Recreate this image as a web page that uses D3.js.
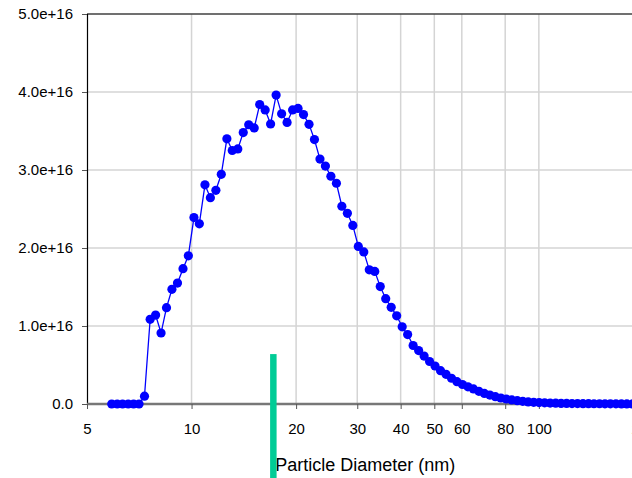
<!DOCTYPE html>
<html lang="en">
<head>
    <meta charset="UTF-8">
    <title>Particle size distribution</title>
    <script src="https://cdn.jsdelivr.net/npm/d3@7"></script>
    <style>
        body{
            margin: 0;
            font-family: "Liberation Sans", Arial, sans-serif;
        }
        .axis text{
            font-family: "Liberation Sans", Arial, sans-serif;
            font-size: 15px;
            fill: #000;
        }
        .grid line{
            stroke: #d4d4d4;
            stroke-width: 1.5;
        }
    </style>
</head>
<body>
<svg id="main" width="632" height="478"></svg>
<script>
    // particle diameters (nm) and number concentrations
    const diameters = [5.89, 6.11, 6.33, 6.57, 6.81, 7.06, 7.32, 7.60, 7.88, 8.17,
        8.47, 8.78, 9.11, 9.45, 9.79, 10.16, 10.53, 10.93, 11.33, 11.75,
        12.18, 12.64, 13.10, 13.59, 14.09, 14.61, 15.15, 15.71, 16.29, 16.89,
        17.52, 18.17, 18.84, 19.54, 20.26, 21.01, 21.79, 22.59, 23.43, 24.29,
        25.19, 26.13, 27.09, 28.10, 29.13, 30.21, 31.33, 32.49, 33.69, 34.94,
        36.23, 37.57, 38.96, 40.41, 41.90, 43.45, 45.06, 46.73, 48.46, 50.25,
        52.11, 54.04, 56.04, 58.11, 60.26, 62.49, 64.81, 67.20, 69.69, 72.27,
        74.94, 77.72, 80.59, 83.58, 86.67, 89.87, 93.20, 96.65, 100.2, 103.9,
        107.8, 111.8, 115.9, 120.2, 124.6, 129.2, 134.0, 139.0, 144.1, 149.5,
        155.0, 160.7, 166.7, 172.9, 179.2, 185.9, 192.8, 199.9];

    const counts = [0, 0, 0, 0, 0, 0, 0.10e16, 1.086e16, 1.14e16, 0.91e16,
        1.235e16, 1.47e16, 1.55e16, 1.735e16, 1.90e16, 2.39e16, 2.31e16, 2.81e16, 2.645e16, 2.74e16,
        2.945e16, 3.40e16, 3.25e16, 3.27e16, 3.48e16, 3.58e16, 3.54e16, 3.84e16, 3.77e16, 3.59e16,
        3.96e16, 3.72e16, 3.61e16, 3.77e16, 3.79e16, 3.71e16, 3.585e16, 3.39e16, 3.14e16, 3.05e16,
        2.92e16, 2.83e16, 2.535e16, 2.445e16, 2.29e16, 2.02e16, 1.95e16, 1.72e16, 1.70e16, 1.505e16,
        1.35e16, 1.24e16, 1.13e16, 0.99e16, 0.89e16, 0.75e16, 0.685e16, 0.615e16, 0.545e16, 0.487e16,
        0.427e16, 0.38e16, 0.33e16, 0.286e16, 0.25e16, 0.22e16, 0.193e16, 0.163e16, 0.135e16, 0.115e16,
        0.094e16, 0.077e16, 0.064e16, 0.052e16, 0.042e16, 0.034e16, 0.027e16, 0.022e16, 0.018e16, 0.015e16,
        0.012e16, 0.010e16, 0.008e16, 0.007e16, 0.006e16, 0.005e16, 0.004e16, 0.004e16, 0.003e16, 0.003e16,
        0.002e16, 0.002e16, 0.002e16, 0.001e16, 0.001e16, 0.001e16, 0.001e16, 0.001e16];

    const xTicks = [5, 10, 20, 30, 40, 50, 60, 80, 100, 200];
    const yTicks = [0, 1e16, 2e16, 3e16, 4e16, 5e16];

    // marker (mode diameter) drawn as a green bar
    const markerDiameter = 17.2;
    const markerTop = 0.64e16;
    const markerBottom = -1e16;

    const margin = {top: 14, left: 87};
    const plotRight = 643.4, plotBottom = 404;

    const data = diameters.map((d, i) => ({d: d, n: counts[i]}));

    const xScale = d3.scaleLog()
        .domain([5, 200])
        .range([margin.left, plotRight]);
    const yScale = d3.scaleLinear()
        .domain([0, 5e16])
        .range([plotBottom, margin.top]);

    const svg = d3.select('svg#main');

    // gridlines
    const grid = svg.append("g").attr("class", "grid");
    grid.selectAll(".vg")
        .data(xTicks.filter(d => d > 5))
        .join("line")
        .attr("x1", d => xScale(d)).attr("x2", d => xScale(d))
        .attr("y1", margin.top).attr("y2", plotBottom);
    grid.selectAll(".hg")
        .data(yTicks.filter(d => d > 0 && d < 5e16))
        .join("line")
        .attr("x1", margin.left).attr("x2", 632)
        .attr("y1", d => yScale(d)).attr("y2", d => yScale(d));

    // top border
    svg.append("line")
        .attr("x1", margin.left).attr("x2", 632)
        .attr("y1", yScale(5e16)).attr("y2", yScale(5e16))
        .attr("stroke", "#404040").attr("stroke-width", 1.5);

    // y axis
    const yAxis = d3.axisLeft(yScale)
        .tickValues(yTicks)
        .tickFormat(d => d === 0 ? "0.0" : d.toExponential(1))
        .tickSize(5)
        .tickPadding(9);
    const yAxisGroup = svg.append("g")
        .attr("class", "axis")
        .attr("transform", `translate(${margin.left},0)`)
        .call(yAxis);
    yAxisGroup.select(".domain").attr("stroke", "#000").attr("stroke-width", 1.2);
    yAxisGroup.selectAll(".tick line").attr("stroke", "#555");

    // x axis
    const xAxis = d3.axisBottom(xScale)
        .tickValues(xTicks)
        .tickFormat(d3.format("d"))
        .tickSize(5)
        .tickPadding(14);
    const xAxisGroup = svg.append("g")
        .attr("class", "axis")
        .attr("transform", `translate(0,${plotBottom})`)
        .call(xAxis);
    xAxisGroup.select(".domain")
        .attr("d", `M${margin.left},0H${plotRight}`)
        .attr("stroke", "#777").attr("stroke-width", 2.5);
    xAxisGroup.selectAll(".tick line").attr("stroke", "#555");

    // data line and dots
    const line = d3.line()
        .x(d => xScale(d.d))
        .y(d => yScale(d.n));
    svg.append("path")
        .datum(data)
        .attr("fill", "none")
        .attr("stroke", "#0000ff")
        .attr("stroke-width", 1.3)
        .attr("d", line);
    svg.append("g")
        .selectAll("circle")
        .data(data)
        .join("circle")
        .attr("cx", d => xScale(d.d))
        .attr("cy", d => yScale(d.n))
        .attr("r", 4.6)
        .attr("fill", "#0000ff");

    // axis title
    svg.append("text")
        .attr("x", (margin.left + plotRight) / 2)
        .attr("y", 470.5)
        .attr("text-anchor", "middle")
        .attr("font-size", "18px")
        .attr("fill", "#000")
        .text("Particle Diameter (nm)");

    // green marker bar
    svg.append("line")
        .attr("x1", xScale(markerDiameter)).attr("x2", xScale(markerDiameter))
        .attr("y1", yScale(markerTop)).attr("y2", yScale(markerBottom))
        .attr("stroke", "#00cc96")
        .attr("stroke-width", 6.5);
</script>
</body>
</html>
